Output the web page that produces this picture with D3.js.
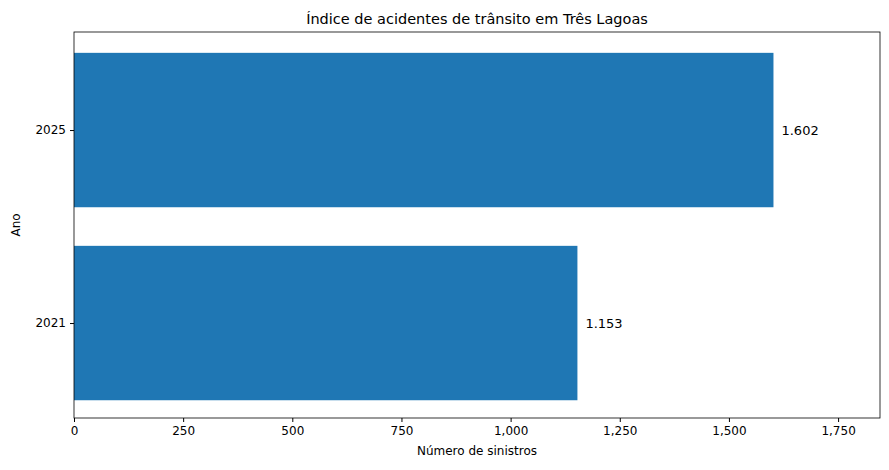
<!DOCTYPE html>
<html><head><meta charset="utf-8">
<script src="https://cdn.jsdelivr.net/npm/d3@7"></script>
<style>body{margin:0;background:#fff}text{font-family:"DejaVu Sans",sans-serif}</style>
</head><body>
<svg id="chart" width="889" height="470"></svg>
<script>
const years = ["2021", "2025"]
const values = [1153, 1602]
const labels = ["1.153", "1.602"]
const xTicks = [0, 250, 500, 750, 1000, 1250, 1500, 1750]

const svg = d3.select("#chart")
const mLeft = 74, mRight = 880, mTop = 32, mBottom = 418

const x = d3.scaleLinear().domain([0, 1846]).range([mLeft, mRight])
const y = d3.scaleLinear().domain([-0.492, 1.508]).range([mBottom, mTop])

//bars
svg.selectAll("rect.bar").data(values).enter().append("rect")
  .attr("x", x(0))
  .attr("y", (d, i) => y(i + 0.4))
  .attr("width", d => x(d) - x(0))
  .attr("height", y(0) - y(0.8))
  .attr("fill", "#1f77b4")

//value labels
svg.selectAll("text.val").data(values).enter().append("text")
  .attr("x", d => x(d) + 8)
  .attr("y", (d, i) => y(i))
  .attr("dy", "0.35em")
  .attr("font-size", 13)
  .text((d, i) => labels[i])

//axes
svg.append("g").attr("transform", `translate(0,${mBottom})`)
  .call(d3.axisBottom(x).tickValues(xTicks).tickSize(4).tickPadding(4))
  .call(g => g.selectAll("text").attr("font-size", 12).attr("fill", "#000"))
svg.append("g").attr("transform", `translate(${mLeft},0)`)
  .call(d3.axisLeft(y).tickValues([0, 1]).tickFormat(i => years[i]).tickSize(4).tickPadding(4))
  .call(g => g.selectAll("text").attr("font-size", 12).attr("fill", "#000"))
svg.selectAll(".domain").remove()
svg.append("rect").attr("x", mLeft).attr("y", mTop).attr("width", mRight - mLeft).attr("height", mBottom - mTop)
  .attr("fill", "none").attr("stroke", "#000").attr("stroke-width", 0.8)

//titles
svg.append("text").attr("x", (mLeft + mRight) / 2).attr("y", mTop - 8).attr("text-anchor", "middle")
  .attr("font-size", 14.5).text("Índice de acidentes de trânsito em Três Lagoas")
svg.append("text").attr("x", (mLeft + mRight) / 2).attr("y", 455).attr("text-anchor", "middle")
  .attr("font-size", 12).text("Número de sinistros")
svg.append("text").attr("transform", `translate(20,${(mTop + mBottom) / 2}) rotate(-90)`)
  .attr("text-anchor", "middle").attr("font-size", 12).text("Ano")
</script>
</body></html>
